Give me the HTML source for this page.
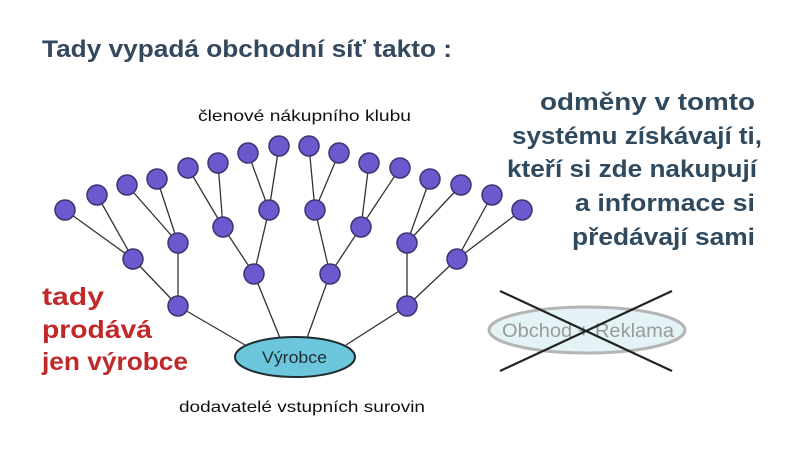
<!DOCTYPE html>
<html><head><meta charset="utf-8"><style>
body{margin:0;background:#fff;}
svg{display:block;}
text{font-family:"Liberation Sans","DejaVu Sans",sans-serif;}
</style></head><body>
<svg width="800" height="450" viewBox="0 0 800 450" xmlns="http://www.w3.org/2000/svg">
<text x="42" y="57" font-size="24" font-weight="bold" fill="#34495e" textLength="410" lengthAdjust="spacingAndGlyphs">Tady vypadá obchodní síť takto :</text>
<text x="198" y="121" font-size="16" fill="#111" textLength="213" lengthAdjust="spacingAndGlyphs">členové nákupního klubu</text>
<text x="179" y="412" font-size="16" fill="#111" textLength="246" lengthAdjust="spacingAndGlyphs">dodavatelé vstupních surovin</text>
<g font-size="24" font-weight="bold" fill="#2f4a5e">
<text x="540" y="110" textLength="215" lengthAdjust="spacingAndGlyphs">odměny  v tomto</text>
<text x="512" y="144" textLength="250" lengthAdjust="spacingAndGlyphs">systému získávají ti,</text>
<text x="507" y="177" textLength="250" lengthAdjust="spacingAndGlyphs">kteří si zde nakupují</text>
<text x="575" y="211" textLength="180" lengthAdjust="spacingAndGlyphs">a  informace si</text>
<text x="572" y="245" textLength="183" lengthAdjust="spacingAndGlyphs">předávají sami</text>
</g>
<g font-size="25" font-weight="bold" fill="#c0282a">
<text x="42" y="305" textLength="62" lengthAdjust="spacingAndGlyphs">tady</text>
<text x="42" y="338" textLength="110" lengthAdjust="spacingAndGlyphs">prodává</text>
<text x="42" y="370" textLength="146" lengthAdjust="spacingAndGlyphs">jen výrobce</text>
</g>
<g stroke="#333" stroke-width="1.3">
<line x1="65" y1="210" x2="133" y2="259"/><line x1="97" y1="195" x2="133" y2="259"/>
<line x1="127" y1="185" x2="178" y2="243"/><line x1="157" y1="179" x2="178" y2="243"/>
<line x1="188" y1="168" x2="223" y2="227"/><line x1="218" y1="163" x2="223" y2="227"/>
<line x1="248" y1="153" x2="269" y2="210"/><line x1="279" y1="146" x2="269" y2="210"/>
<line x1="309" y1="146" x2="315" y2="210"/><line x1="339" y1="153" x2="315" y2="210"/>
<line x1="369" y1="163" x2="361" y2="227"/><line x1="400" y1="168" x2="361" y2="227"/>
<line x1="430" y1="179" x2="407" y2="243"/><line x1="461" y1="185" x2="407" y2="243"/>
<line x1="492" y1="195" x2="457" y2="259"/><line x1="522" y1="210" x2="457" y2="259"/>
<line x1="133" y1="259" x2="178" y2="306"/><line x1="178" y1="243" x2="178" y2="306"/>
<line x1="223" y1="227" x2="254" y2="274"/><line x1="269" y1="210" x2="254" y2="274"/>
<line x1="315" y1="210" x2="330" y2="274"/><line x1="361" y1="227" x2="330" y2="274"/>
<line x1="407" y1="243" x2="407" y2="306"/><line x1="457" y1="259" x2="407" y2="306"/>
<line x1="178" y1="306" x2="245" y2="345"/><line x1="254" y1="274" x2="280" y2="338"/>
<line x1="330" y1="274" x2="307" y2="338"/><line x1="407" y1="306" x2="346" y2="345"/>
</g>
<g fill="#6a5acd" stroke="#3a3470" stroke-width="1.5">
<circle cx="65" cy="210" r="10"/><circle cx="97" cy="195" r="10"/><circle cx="127" cy="185" r="10"/><circle cx="157" cy="179" r="10"/>
<circle cx="188" cy="168" r="10"/><circle cx="218" cy="163" r="10"/><circle cx="248" cy="153" r="10"/><circle cx="279" cy="146" r="10"/>
<circle cx="309" cy="146" r="10"/><circle cx="339" cy="153" r="10"/><circle cx="369" cy="163" r="10"/><circle cx="400" cy="168" r="10"/>
<circle cx="430" cy="179" r="10"/><circle cx="461" cy="185" r="10"/><circle cx="492" cy="195" r="10"/><circle cx="522" cy="210" r="10"/>
<circle cx="133" cy="259" r="10"/><circle cx="178" cy="243" r="10"/><circle cx="223" cy="227" r="10"/><circle cx="269" cy="210" r="10"/>
<circle cx="315" cy="210" r="10"/><circle cx="361" cy="227" r="10"/><circle cx="407" cy="243" r="10"/><circle cx="457" cy="259" r="10"/>
<circle cx="178" cy="306" r="10"/><circle cx="254" cy="274" r="10"/><circle cx="330" cy="274" r="10"/><circle cx="407" cy="306" r="10"/>
</g>
<ellipse cx="295" cy="357" rx="60" ry="20" fill="#6cc7dc" stroke="#1f2d33" stroke-width="2"/>
<text x="262" y="363" font-size="17" fill="#1f2d33" textLength="65" lengthAdjust="spacingAndGlyphs">Výrobce</text>
<ellipse cx="587" cy="330" rx="98" ry="23" fill="#e3f3f6" stroke="#b5b5b5" stroke-width="3"/>
<text x="502" y="337" font-size="19" fill="#9a9a9a" textLength="172" lengthAdjust="spacingAndGlyphs">Obchod + Reklama</text>
<line x1="500" y1="291" x2="672" y2="371" stroke="#222" stroke-width="2.2"/>
<line x1="500" y1="371" x2="672" y2="291" stroke="#222" stroke-width="2.2"/>
</svg>
</body></html>
